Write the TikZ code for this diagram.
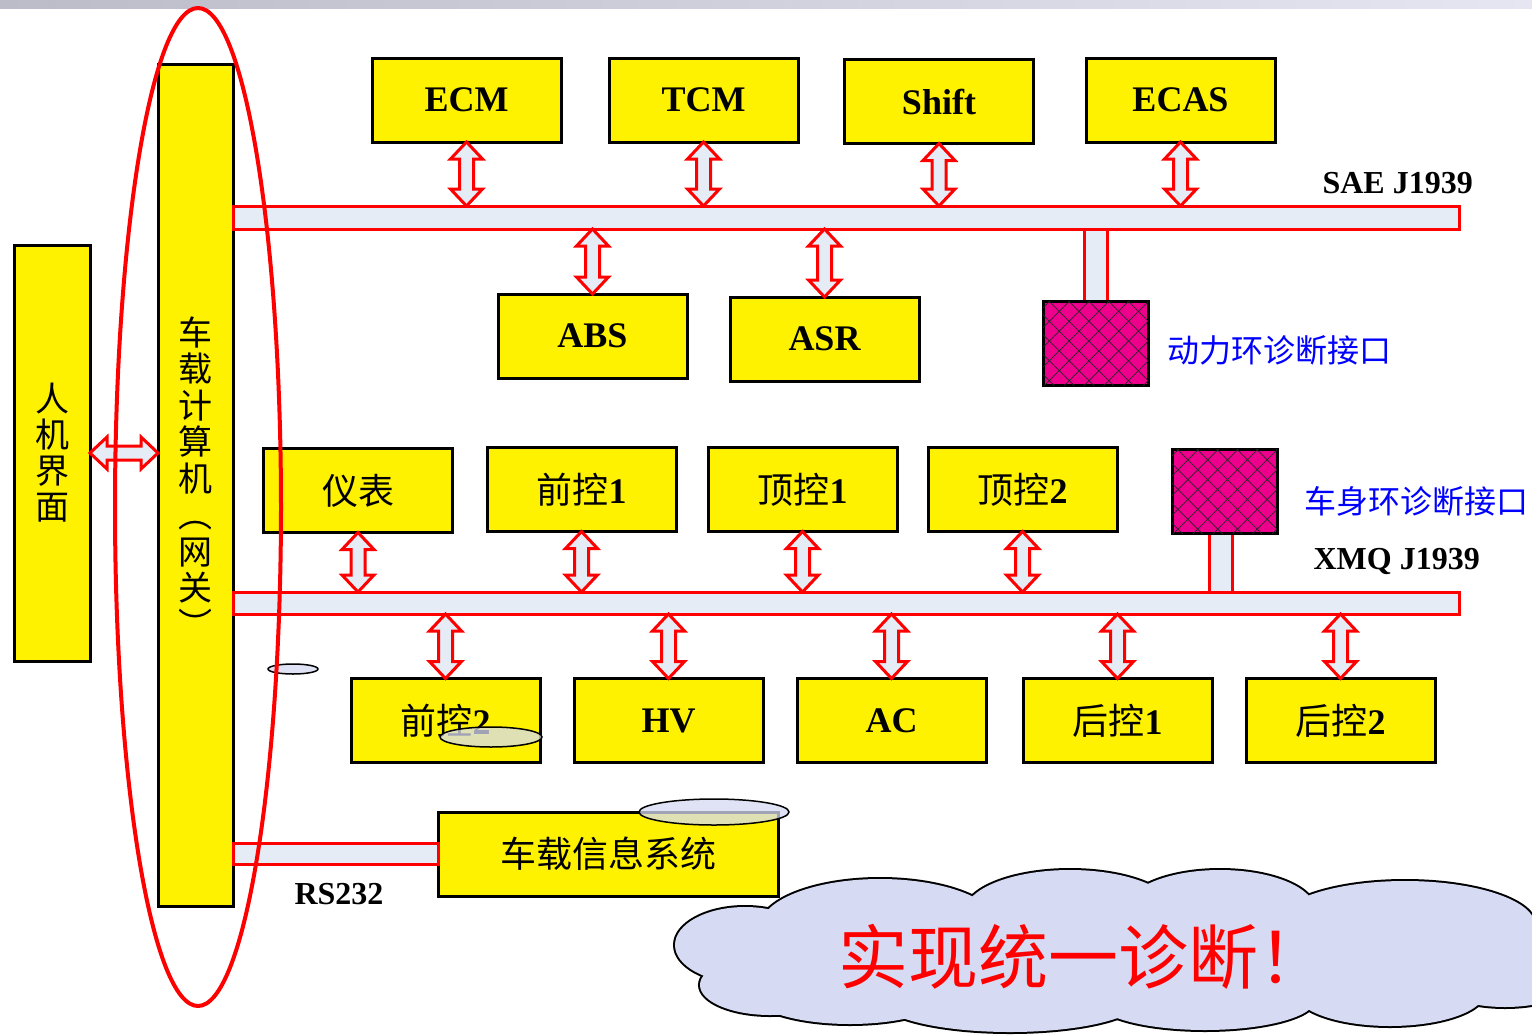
\documentclass[tikz,border=0pt]{standalone}
\usepackage{fontspec}
\setmainfont{Liberation Serif}
\newfontfamily\cjk{Noto Sans CJK SC}
\usetikzlibrary{patterns.meta,calc}
\definecolor{busfill}{RGB}{230,236,245}
\definecolor{cloudfill}{RGB}{214,218,242}
\definecolor{diagblue}{RGB}{0,0,255}
\newcommand\zh[1]{{\cjk\mdseries #1}}
\tikzset{
  ybox/.style={draw=black, line width=3pt, fill=yellow, minimum width=189pt, minimum height=84pt,
    inner sep=0pt, outer sep=0pt, font=\fontsize{36}{40}\selectfont\bfseries},
  busbar/.style={draw=red, line width=3pt, fill=busfill, inner sep=0pt, outer sep=0pt},
  barrow/.style={draw=red, line width=3pt, fill=busfill, line join=miter},
  diagbox/.style={draw=black, line width=3pt, fill=magenta, minimum width=105pt, minimum height=84pt,
    inner sep=0pt, outer sep=0pt,
    postaction={pattern={Lines[angle=45,distance=14pt,line width=0.7pt]}, pattern color=black!85},
    postaction={pattern={Lines[angle=-45,distance=14pt,line width=0.7pt]}, pattern color=black!85}},
  buslabel/.style={font=\fontsize{32}{34}\selectfont\bfseries, inner sep=0pt},
  bluelabel/.style={text=diagblue, font=\fontsize{32}{36}\selectfont\cjk, inner sep=0pt},
  smallell/.style={draw=black, line width=1.5pt, fill=cloudfill, fill opacity=0.75},
  puff/.style={draw=black, line width=4pt, fill=cloudfill},
}
\newcommand\vdarr[2]{\draw[barrow] (#1) -- ++(16,17) -- ++(-9,0) -- ($(#2)+(7,-17)$) -- ++(9,0)
  -- (#2) -- ++(-16,-17) -- ++(9,0) -- ($(#1)+(-7,17)$) -- ++(-9,0) -- cycle;}
\newcommand\hdarr[2]{\draw[barrow] (#1) -- ++(17,-16) -- ++(0,9) -- ($(#2)+(-17,-7)$) -- ++(0,-9)
  -- (#2) -- ++(-17,16) -- ++(0,-9) -- ($(#1)+(17,7)$) -- ++(0,9) -- cycle;}
\begin{document}
\begin{tikzpicture}[x=1pt,y=-1pt]
\useasboundingbox (0,0) rectangle (1532,1034);
\clip (0,0) rectangle (1532,1034);
\shade[left color={rgb,255:red,187;green,188;blue,200}, right color={rgb,255:red,230;green,230;blue,242}]
  (0,0) rectangle (1532,8);

% side boxes
\node[ybox, minimum width=76pt, minimum height=416pt] (hmi) at (52,453) {};
\node[align=center, font=\fontsize{34}{36}\selectfont\cjk] (hmitext) at (52,453) {人\\机\\界\\面};
\node[ybox, minimum width=75pt, minimum height=842pt] (gw) at (195.5,485) {};
\node[align=center, font=\fontsize{34}{36.5}\selectfont\cjk] (gwtext) at (195.5,477)
  {车\\载\\计\\算\\机\\︵\\网\\关\\︶};

% buses
\node[busbar, minimum width=1226pt, minimum height=23pt, anchor=west] (sae) at (233,217.5) {};
\node[busbar, minimum width=1226pt, minimum height=22pt, anchor=west] (xmq) at (233,603) {};

% diagnostic boxes and stubs
\node[diagbox] (diag1) at (1095.5,343) {};
\node[diagbox] (diag2) at (1224.5,491) {};
\draw[busbar] ($(diag1.north)+(-11.5,0)$) rectangle ($(diag1.north |- sae.south)+(11.5,0)$);
\draw[busbar] ($(diag2.south)+(-15.5,0)$) rectangle ($(diag2.south |- xmq.north)+(7.5,0)$);
\node[diagbox] at (diag1) {};
\node[diagbox] at (diag2) {};

% top row
\node[ybox] (ecm) at (466.5,100) {ECM};
\node[ybox] (tcm) at (703.5,100) {TCM};
\node[ybox] (shift) at (939,101.5) {Shift};
\node[ybox] (ecas) at (1180.5,100) {ECAS};
\node[ybox] (abs) at (592.5,336) {ABS};
\node[ybox] (asr) at (824.5,339) {ASR};

% second row
\node[ybox] (yb) at (358,490.5) {\zh{仪表}};
\node[ybox] (qk1) at (581.5,489.5) {\zh{前控}1};
\node[ybox] (dk1) at (802.5,489.5) {\zh{顶控}1};
\node[ybox] (dk2) at (1022.5,489.5) {\zh{顶控}2};

% third row
\node[ybox] (qk2) at (445.5,720.5) {\zh{前控}2};
\node[ybox] (hv) at (668.5,720.5) {HV};
\node[ybox] (ac) at (891.5,720.5) {AC};
\node[ybox] (hk1) at (1117.5,720.5) {\zh{后控}1};
\node[ybox] (hk2) at (1340.5,720.5) {\zh{后控}2};

% info system
\node[ybox, minimum width=340pt] (info) at (608,854) {\zh{车载信息系统}};
\draw[busbar] ($(gw.east |- info.west)+(0,-11)$) rectangle ($(info.west)+(0,10)$);

% arrows
\vdarr{ecm.south}{ecm.south |- sae.north}
\vdarr{tcm.south}{tcm.south |- sae.north}
\vdarr{shift.south}{shift.south |- sae.north}
\vdarr{ecas.south}{ecas.south |- sae.north}
\vdarr{abs.north |- sae.south}{abs.north}
\vdarr{asr.north |- sae.south}{asr.north}
\vdarr{yb.south}{yb.south |- xmq.north}
\vdarr{qk1.south}{qk1.south |- xmq.north}
\vdarr{dk1.south}{dk1.south |- xmq.north}
\vdarr{dk2.south}{dk2.south |- xmq.north}
\vdarr{qk2.north |- xmq.south}{qk2.north}
\vdarr{hv.north |- xmq.south}{hv.north}
\vdarr{ac.north |- xmq.south}{ac.north}
\vdarr{hk1.north |- xmq.south}{hk1.north}
\vdarr{hk2.north |- xmq.south}{hk2.north}
\hdarr{hmi.east}{hmi.east -| gw.west}

% labels
\node[buslabel, anchor=east] (saelab) at (1473,183) {SAE J1939};
\node[buslabel, anchor=east] (xmqlab) at (1480,561) {XMQ J1939};
\node[buslabel] (rslab) at (339,894) {RS232};
\node[bluelabel, anchor=west] (d1lab) at (1167,350) {动力环诊断接口};
\node[bluelabel, anchor=west] (d2lab) at (1304,501) {车身环诊断接口};

% small ellipses
\draw[smallell] (293,669) ellipse [x radius=25, y radius=5];
\draw[smallell] (491,737) ellipse [x radius=51, y radius=10];
\draw[smallell] (714,812) ellipse [x radius=75, y radius=13];

% cloud built from puffs
\foreach \cx/\cy/\rx/\ry in {745/945/70/38, 770/985/70/30, 880/927/120/48, 1070/912/105/42,
  1220/910/95/40, 1405/925/130/44, 1505/962/90/45, 1390/992/95/34, 1205/1000/110/30,
  1010/1000/130/32, 850/992/100/32}
  \draw[puff] (\cx,\cy) ellipse [x radius=\rx, y radius=\ry];
\foreach \cx/\cy/\rx/\ry in {745/945/70/38, 770/985/70/30, 880/927/120/48, 1070/912/105/42,
  1220/910/95/40, 1405/925/130/44, 1505/962/90/45, 1390/992/95/34, 1205/1000/110/30,
  1010/1000/130/32, 850/992/100/32}
  \fill[cloudfill] (\cx,\cy) ellipse [x radius=\rx, y radius=\ry];
\fill[cloudfill] (1110,958) ellipse [x radius=390, y radius=58];
\node[text=red, font=\fontsize{70}{74}\selectfont\cjk, inner sep=0pt, anchor=west] (cltext) at (838,957) {实现统一诊断！};

% red ellipse
\draw[red, line width=4pt] (198,507) ellipse [x radius=83, y radius=499];
\end{tikzpicture}
\end{document}
